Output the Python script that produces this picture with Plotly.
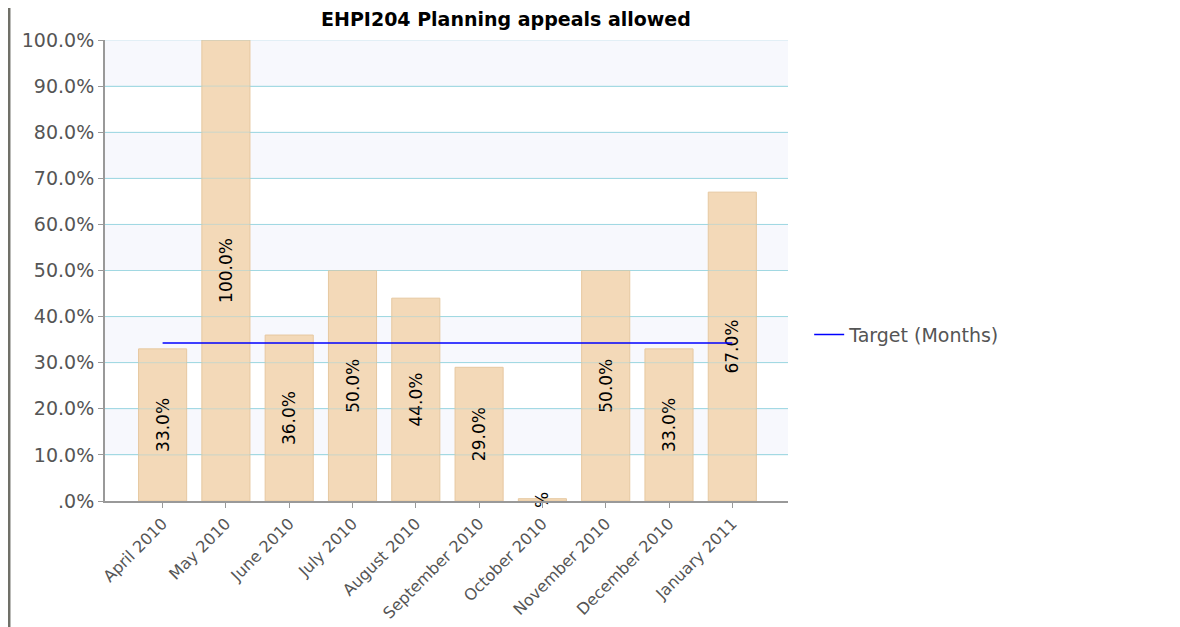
import plotly.graph_objects as go

months = ["April 2010", "May 2010", "June 2010", "July 2010", "August 2010",
          "September 2010", "October 2010", "November 2010", "December 2010", "January 2011"]
values = [33.0, 100.0, 36.0, 50.0, 44.0, 29.0, 0.5, 50.0, 33.0, 67.0]
labels = ["33.0%", "100.0%", "36.0%", "50.0%", "44.0%", "29.0%", "%", "50.0%", "33.0%", "67.0%"]
target = [34.3] * len(months)
ytick_vals = [0, 10, 20, 30, 40, 50, 60, 70, 80, 90, 100]
ytick_text = [".0%", "10.0%", "20.0%", "30.0%", "40.0%", "50.0%", "60.0%", "70.0%", "80.0%", "90.0%", "100.0%"]

FONT = "DejaVu Sans"

fig = go.Figure()

fig.add_trace(go.Bar(
    x=months, y=values, text=labels,
    textposition="inside", insidetextanchor="middle", textangle=-90,
    textfont=dict(family=FONT, size=17, color="#000000"),
    marker=dict(color="#f3d9b8", line=dict(color="#e6c8a0", width=1)),
    width=0.76, showlegend=False, cliponaxis=False,
    constraintext="none",
))

fig.add_trace(go.Scatter(
    x=months, y=target, mode="lines", name="Target (Months)",
    line=dict(color="#0000ff", width=1.5),
))

shapes = []
for lo in [10, 30, 50, 70, 90]:
    shapes.append(dict(type="rect", xref="paper", yref="y", x0=0, x1=1, y0=lo, y1=lo + 10,
                       fillcolor="#f7f8fd", line=dict(width=0), layer="below"))
for v in ytick_vals[1:]:
    shapes.append(dict(type="line", xref="paper", yref="y", x0=0, x1=1, y0=v, y1=v,
                       line=dict(color="rgba(150,210,222,0.45)", width=1), layer="above"))
shapes.append(dict(type="line", xref="paper", yref="paper", x0=-0.1406, x1=-0.1406, y0=-0.4, y1=1.1,
                   line=dict(color="#707068", width=3)))

fig.update_layout(
    width=1180, height=627,
    margin=dict(l=97, r=400, t=32, b=132),
    paper_bgcolor="white", plot_bgcolor="white",
    title=dict(text="<b>EHPI204 Planning appeals allowed</b>", x=0.422, xanchor="center",
               y=0.993, yanchor="top", pad=dict(t=0),
               font=dict(family=FONT, size=19, color="#000000")),
    shapes=shapes,
    legend=dict(x=1.031, y=0.361, xanchor="left", yanchor="middle",
                font=dict(family=FONT, size=19, color="#555555"), bgcolor="rgba(0,0,0,0)"),
    xaxis=dict(range=[-0.91, 9.88], tickangle=-45, tickfont=dict(family=FONT, size=16, color="#555555"),
               showline=True, linecolor="#999999", linewidth=2, ticks="outside",
               ticklen=5, tickcolor="#999999", showgrid=False),
    yaxis=dict(range=[0, 100], tickvals=ytick_vals, ticktext=ytick_text,
               tickfont=dict(family=FONT, size=19, color="#555555"),
               showline=True, linecolor="#999999", linewidth=2, ticks="outside",
               ticklen=5, tickcolor="#999999", gridcolor="#a9dde6", gridwidth=1,
               zeroline=False),
)

fig.write_html("out.html")
